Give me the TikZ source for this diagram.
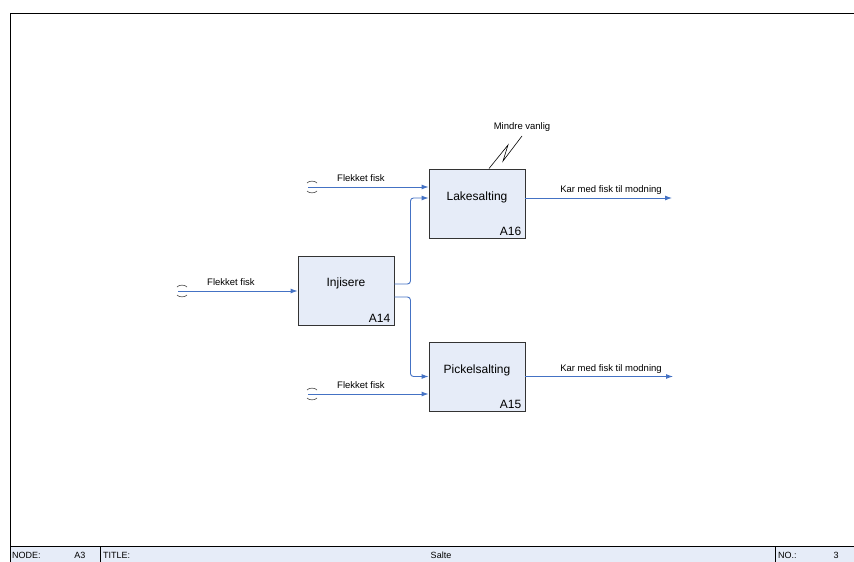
\documentclass[tikz,border=0pt]{standalone}
\usepackage{fontspec}
\setmainfont{Liberation Sans}
\usetikzlibrary{arrows.meta}
\definecolor{flowblue}{RGB}{68,114,196}
\definecolor{boxfill}{RGB}{230,236,248}

\tikzset{
  act/.style={draw=black!80, fill=boxfill, line width=0.9pt, minimum width=96pt, minimum height=69pt, inner sep=0pt},
  actname/.style={font=\fontsize{12}{14}\selectfont, inner sep=0pt},
  actnum/.style={font=\fontsize{12}{14}\selectfont, inner xsep=4pt, inner ysep=3pt, anchor=south east},
  flow/.style={draw=flowblue, line width=0.9pt, -{Latex[length=7pt,width=5pt]}},
  flowlabel/.style={font=\fontsize{9.5}{11}\selectfont, inner sep=0pt},
  striptext/.style={font=\fontsize{9}{11}\selectfont, inner sep=0pt},
  tunnel/.pic={
    \draw[black!70, line width=0.6pt] (-1,-4) .. controls (1,-6.5) and (7,-6.5) .. (9,-4);
    \draw[black!70, line width=0.6pt] (-1,4) .. controls (1,6.5) and (7,6.5) .. (9,4);
  }
}

\begin{document}
\begin{tikzpicture}[x=1pt,y=-1pt]
\useasboundingbox (0,0) rectangle (854,562);

% frame and title strip
\fill[boxfill] (10,546) rectangle (854,562);
\draw[line width=0.9pt] (10,562) -- (10,13) -- (854,13);
\draw[line width=0.9pt] (10,546) -- (854,546);
\draw[line width=0.7pt] (100,546) -- (100,562);
\draw[line width=0.7pt] (775,546) -- (775,562);
\node[striptext, anchor=west] (nodelbl) at (12,555) {NODE:};
\node[striptext] (nodeval) at (80,555) {A3};
\node[striptext, anchor=west] (titlelbl) at (103,555) {TITLE:};
\node[striptext] (titleval) at (441,555) {Salte};
\node[striptext, anchor=west] (nolbl) at (778,555) {NO.:};
\node[striptext] (noval) at (836,555) {3};

% activities
\node[act] (inj) at (346,290.5) {};
\node[actname] (injname) at ([yshift=7.5pt]inj.center) {Injisere};
\node[actnum] (injnum) at (inj.south east) {A14};

\node[act] (lake) at (477,203.5) {};
\node[actname] (lakename) at ([yshift=6.5pt]lake.center) {Lakesalting};
\node[actnum] (lakenum) at (lake.south east) {A16};

\node[act] (pick) at (477,376.5) {};
\node[actname] (pickname) at ([yshift=6.5pt]pick.center) {Pickelsalting};
\node[actnum] (picknum) at (pick.south east) {A15};

% ports
\coordinate (t1) at (178,291);
\coordinate (t2) at (308,187);
\coordinate (t3) at (308,394);
\coordinate (inj o1) at ([yshift=6.5pt]inj.east);
\coordinate (inj o2) at ([yshift=-6.5pt]inj.east);
\coordinate (lake i1) at ([yshift=16.5pt]lake.west);
\coordinate (lake i2) at ([yshift=5.5pt]lake.west);
\coordinate (lake o) at ([yshift=5.5pt]lake.east);
\coordinate (pick i1) at (pick.west);
\coordinate (pick i2) at ([yshift=-17.5pt]pick.west);
\coordinate (pick o) at (pick.east);
\coordinate (lake end) at (672,198);
\coordinate (pick end) at (673,376.5);

\pic at (t1) {tunnel};
\pic at (t2) {tunnel};
\pic at (t3) {tunnel};

% arrows
\draw[flow] (t1) -- (inj.west |- t1);
\draw[flow] (t2) -- (lake i1);
\draw[flow] (t3) -- (pick i2);
\draw[flow, rounded corners=3pt] (inj o1) -- ++(16,0) |- (lake i2);
\draw[flow, rounded corners=3pt] (inj o2) -- ++(16,0) |- (pick i1);
\draw[flow] (lake o) -- (lake end);
\draw[flow] (pick o) -- (pick end);

% labels
\node[flowlabel] (f1) at (231,282) {Flekket fisk};
\node[flowlabel] (f2) at (361,178) {Flekket fisk};
\node[flowlabel] (f3) at (361,385) {Flekket fisk};
\node[flowlabel] (k1) at (611,190) {Kar med fisk til modning};
\node[flowlabel] (k2) at (611,369) {Kar med fisk til modning};

% note
\node[flowlabel] (mv) at (522,127) {Mindre vanlig};
\draw[line width=0.6pt] ([xshift=12pt]lake.north) -- (508,145) -- (503,161) -- (522,136);
\end{tikzpicture}
\end{document}
